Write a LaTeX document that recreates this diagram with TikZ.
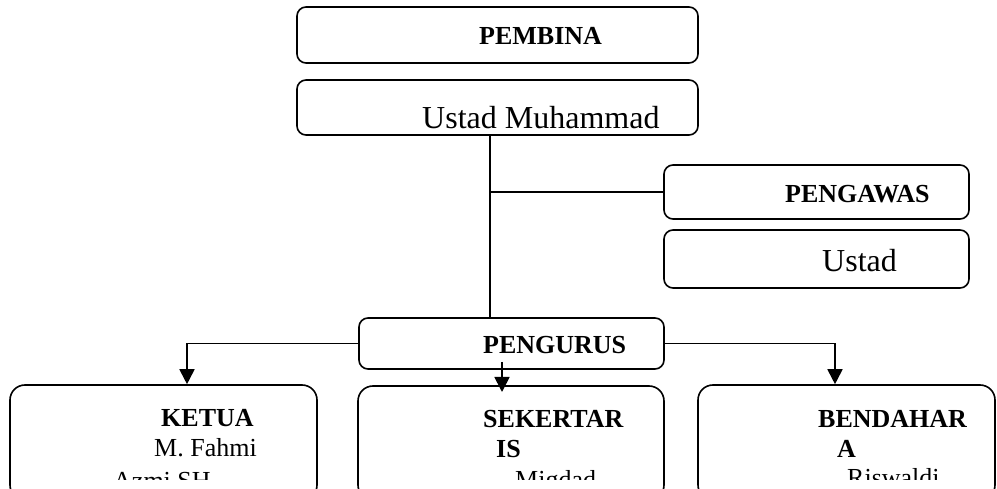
\documentclass[tikz,border=0pt]{standalone}
\usepackage{fontspec}
\setmainfont{Liberation Serif}
\usetikzlibrary{arrows.meta}
\begin{document}
\begin{tikzpicture}[x=1pt,y=1pt,
  box/.style={draw=black, line width=1.6pt, rounded corners=9pt, inner sep=0pt},
  bigbox/.style={draw=black, line width=1.6pt, rounded corners=15pt, inner sep=0pt},
  hd/.style={inner sep=0pt, anchor=base west, font=\fontsize{26}{30}\selectfont\bfseries},
  nm/.style={inner sep=0pt, anchor=base west, font=\fontsize{32}{36}\selectfont},
  nms/.style={inner sep=0pt, anchor=base west, font=\fontsize{26}{30}\selectfont},
  conn/.style={draw=black, line width=1.8pt},
  arr/.style={conn, -{Triangle[width=15pt,length=15pt]}}]
\clip (0,0) rectangle (997,488);
\fill[white] (0,0) rectangle (997,488);
% boxes
\node[box, minimum width=401pt, minimum height=56pt] (pembina) at (497.5,453) {};
\node[box, minimum width=401pt, minimum height=55pt] (ustadm) at (497.5,380.5) {};
\node[box, minimum width=305pt, minimum height=54pt] (pengawas) at (816.5,296) {};
\node[box, minimum width=305pt, minimum height=58pt] (ustad) at (816.5,229) {};
\node[box, minimum width=305pt, minimum height=51pt] (pengurus) at (511.5,144.5) {};
\node[bigbox, minimum width=307pt, minimum height=115pt] (ketua) at (163.5,45.5) {};
\node[bigbox, minimum width=306pt, minimum height=114pt] (sekertaris) at (511,45) {};
\node[bigbox, minimum width=297pt, minimum height=115pt] (bendahara) at (846.5,45.5) {};
% texts
\node[hd] (tpembina) at (479,443) {PEMBINA};
\node[nm] (tustadm) at (422,359) {Ustad Muhammad};
\node[hd] (tpengawas) at (785,285) {PENGAWAS};
\node[nm] (tustad) at (822,216) {Ustad};
\node[hd] (tpengurus) at (483,134) {PENGURUS};
\node[hd] (tketua) at (161,62) {KETUA};
\node[nms] (tfahmi) at (154,32) {M. Fahmi};
\node[hd] (tsek1) at (483,61) {SEKERTAR};
\node[hd] (tsek2) at (496,31) {IS};
\node[hd] (tben1) at (818,61) {BENDAHAR};
\node[hd] (tben2) at (837,31) {A};
\begin{scope}
  \clip (0,9) rectangle (997,488);
  \node[nms] (tazmi) at (113,-1) {Azmi SH};
  \node[nms] (tmigdad) at (515,0) {Migdad};
  \node[nms] (triswaldi) at (847,2) {Riswaldi};
\end{scope}
% connectors
\coordinate (sp) at (490,0);
\coordinate (kx) at (187,0);
\coordinate (bx) at (835,0);
\coordinate (m1) at (502,126);
\coordinate (m2) at (502,96);
\draw[conn] (sp |- ustadm.south) -- (sp |- pengurus.north);
\draw[conn] (sp |- pengawas.west) -- (pengawas.west);
\draw[arr] (pengurus.west) -| (kx |- ketua.north);
\draw[arr] (pengurus.east) -| (bx |- bendahara.north);
\draw[arr] (m1) -- (m2);
\end{tikzpicture}
\end{document}
